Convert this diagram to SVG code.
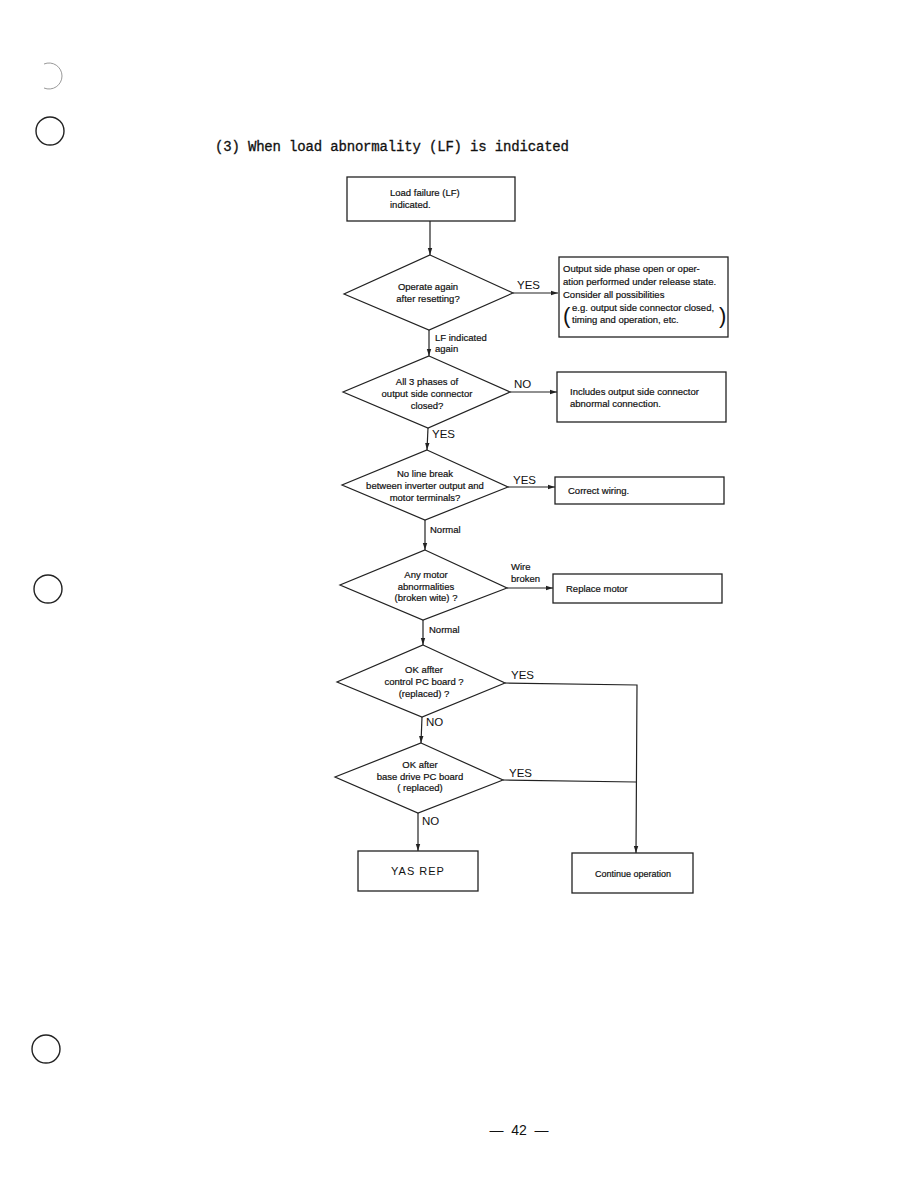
<svg xmlns="http://www.w3.org/2000/svg" width="918" height="1188" viewBox="0 0 918 1188">
<style>
.bx{fill:#fff;stroke:#222;stroke-width:1.3}
.dm{fill:#fff;stroke:#222;stroke-width:1.2}
.cn{fill:none;stroke:#222;stroke-width:1.2}
.t{font-family:"Liberation Sans",Arial,sans-serif;font-size:9.5px;fill:#111;stroke:#111;stroke-width:0.2}
.tm{font-family:"Liberation Sans",Arial,sans-serif;font-size:9.5px;fill:#111;stroke:#111;stroke-width:0.2;text-anchor:middle}
.lb{font-family:"Liberation Sans",Arial,sans-serif;font-size:11.5px;fill:#111}
.hole{fill:none;stroke:#222;stroke-width:1.4}
</style>
<defs>
<marker id="ah" markerWidth="8" markerHeight="6" refX="7" refY="3" orient="auto" markerUnits="userSpaceOnUse">
<path d="M0,0.8 L7,3 L0,5.2 Z" fill="#222"/>
</marker>
</defs>
<rect width="918" height="1188" fill="#fff"/>

<g id="page-marks">
<path d="M44,64 A13,13 0 1 1 44,88" fill="none" stroke="#999" stroke-width="1"/>
<circle class="hole" cx="50" cy="131" r="14"/>
<circle class="hole" cx="48" cy="589" r="14"/>
<circle class="hole" cx="46" cy="1049" r="14"/>
<text x="519" y="1135" font-family="Liberation Sans,Arial,sans-serif" font-size="14" text-anchor="middle" fill="#111" xml:space="preserve">—  42  —</text>
</g>

<text id="title" x="215" y="151" font-family="Liberation Mono,Courier New,monospace" font-size="14" textLength="354" fill="#111" stroke="#111" stroke-width="0.3">(3) When load abnormality (LF) is indicated</text>

<g id="connectors">
<path class="cn" d="M430,221 L430,255" marker-end="url(#ah)"/>
<path class="cn" d="M513,293 L558,293" marker-end="url(#ah)"/>
<path class="cn" d="M429,330 L429,356" marker-end="url(#ah)"/>
<path class="cn" d="M510,392 L557,392" marker-end="url(#ah)"/>
<path class="cn" d="M428,428 L427,450" marker-end="url(#ah)"/>
<path class="cn" d="M508,487 L555,487" marker-end="url(#ah)"/>
<path class="cn" d="M425,520 L425,550" marker-end="url(#ah)"/>
<path class="cn" d="M507,588 L553,588" marker-end="url(#ah)"/>
<path class="cn" d="M423,620 L423,645" marker-end="url(#ah)"/>
<path class="cn" d="M505,683 L637,685 L636,853" marker-end="url(#ah)"/>
<path class="cn" d="M503,780 L636,782"/>
<path class="cn" d="M422,717 L421,743" marker-end="url(#ah)"/>
<path class="cn" d="M418,813 L418,851" marker-end="url(#ah)"/>
<text class="lb" x="517" y="289">YES</text>
<text class="t" x="435" y="341">LF indicated</text>
<text class="t" x="435" y="352">again</text>
<text class="lb" x="514" y="388">NO</text>
<text class="lb" x="432" y="438">YES</text>
<text class="lb" x="513" y="484">YES</text>
<text class="t" x="430" y="533">Normal</text>
<text class="t" x="511" y="570">Wire</text>
<text class="t" x="511" y="582">broken</text>
<text class="t" x="429" y="633">Normal</text>
<text class="lb" x="511" y="679">YES</text>
<text class="lb" x="426" y="726">NO</text>
<text class="lb" x="509" y="777">YES</text>
<text class="lb" x="422" y="825">NO</text>
</g>

<g id="start">
<rect class="bx" x="347" y="177" width="168" height="44"/>
<text class="t" x="390" y="196">Load failure (LF)</text>
<text class="t" x="390" y="208">indicated.</text>
</g>

<g id="d1">
<path class="dm" d="M430,255 L513,293 L429,330 L344,294 Z"/>
<text class="tm" x="428" y="290">Operate again</text>
<text class="tm" x="428" y="302">after resetting?</text>
</g>

<g id="b1">
<rect class="bx" x="559" y="257" width="169" height="80"/>
<text class="t" x="563" y="272">Output side phase open or oper-</text>
<text class="t" x="563" y="285">ation performed under release state.</text>
<text class="t" x="563" y="298">Consider all possibilities</text>
<text x="563" y="323" font-family="Liberation Sans,Arial,sans-serif" font-size="22" fill="#111">(</text>
<text class="t" x="572" y="311">e.g. output side connector closed,</text>
<text class="t" x="572" y="323">timing and operation, etc.</text>
<text x="719" y="323" font-family="Liberation Sans,Arial,sans-serif" font-size="22" fill="#111">)</text>
</g>

<g id="d2">
<path class="dm" d="M429,356 L510,392 L428,428 L343,392 Z"/>
<text class="tm" x="427" y="385">All 3 phases of</text>
<text class="tm" x="427" y="397">output side connector</text>
<text class="tm" x="427" y="409">closed?</text>
</g>

<g id="b2">
<rect class="bx" x="557" y="372" width="169" height="50"/>
<text class="t" x="570" y="395">Includes output side connector</text>
<text class="t" x="570" y="407">abnormal connection.</text>
</g>

<g id="d3">
<path class="dm" d="M427,450 L508,487 L425,520 L342,485 Z"/>
<text class="tm" x="425" y="477">No line break</text>
<text class="tm" x="425" y="489">between inverter output and</text>
<text class="tm" x="425" y="501">motor terminals?</text>
</g>

<g id="b3">
<rect class="bx" x="555" y="477" width="169" height="27"/>
<text class="t" x="568" y="494">Correct wiring.</text>
</g>

<g id="d4">
<path class="dm" d="M425,550 L507,588 L423,620 L340,585 Z"/>
<text class="tm" x="426" y="578">Any motor</text>
<text class="tm" x="426" y="590">abnormalities</text>
<text class="tm" x="426" y="601">(broken wite) ?</text>
</g>

<g id="b4">
<rect class="bx" x="553" y="574" width="169" height="29"/>
<text class="t" x="566" y="592">Replace motor</text>
</g>

<g id="d5">
<path class="dm" d="M423,645 L505,683 L422,717 L337,682 Z"/>
<text class="tm" x="424" y="673">OK affter</text>
<text class="tm" x="424" y="685">control PC board ?</text>
<text class="tm" x="424" y="697">(replaced) ?</text>
</g>

<g id="d6">
<path class="dm" d="M421,743 L503,780 L418,813 L335,777 Z"/>
<text class="tm" x="420" y="768">OK after</text>
<text class="tm" x="420" y="780">base drive PC board</text>
<text class="tm" x="420" y="791">( replaced)</text>
</g>

<g id="yasrep">
<rect class="bx" x="358" y="851" width="120" height="40"/>
<text x="418" y="875" font-family="Liberation Sans,Arial,sans-serif" font-size="11" letter-spacing="1" text-anchor="middle" fill="#111">YAS REP</text>
</g>

<g id="continue">
<rect class="bx" x="572" y="853" width="121" height="40"/>
<text x="633" y="877" font-family="Liberation Sans,Arial,sans-serif" font-size="9" text-anchor="middle" fill="#111" stroke="#111" stroke-width="0.2">Continue operation</text>
</g>
</svg>
